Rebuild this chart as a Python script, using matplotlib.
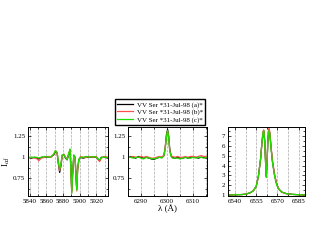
import matplotlib
matplotlib.use("Agg")
import matplotlib.pyplot as plt
from matplotlib.ticker import MultipleLocator, FormatStrFormatter

plt.rcParams['font.family'] = ['Liberation Serif', 'DejaVu Serif']
plt.rcParams['mathtext.fontset'] = 'stix'

labels = ['VV Ser *31-Jul-98 (a)*', 'VV Ser *31-Jul-98 (b)*', 'VV Ser *31-Jul-98 (c)*']
colors = ['black', '#ff5050', '#22dd00']

# panel 1: He I 5876 / Na D
wl1 = [5838, 5842, 5846, 5849, 5851, 5854, 5858, 5862, 5866, 5869, 5871, 5873,
       5874.5, 5876, 5877.5, 5879, 5881, 5883, 5885, 5887, 5888.5, 5889.5, 5890.5,
       5891.5, 5893, 5894.5, 5895.5, 5896.5, 5897.5, 5899, 5901, 5904, 5908, 5912,
       5916, 5920, 5922, 5924, 5926, 5930, 5934]
a1 = [1.00, 0.99, 1.00, 0.99, 0.98, 1.00, 1.00, 1.00, 1.01, 1.03, 1.07, 1.05,
      0.92, 0.82, 0.90, 1.02, 1.03, 0.99, 0.97, 1.04, 1.09, 0.85, 0.60,
      0.80, 1.02, 1.00, 0.80, 0.62, 0.85, 0.97, 1.00, 0.99, 1.00, 1.00,
      1.00, 1.00, 0.98, 0.96, 1.00, 1.00, 0.99]
b1 = [0.99, 1.00, 0.99, 0.98, 0.96, 0.99, 1.00, 1.01, 1.00, 1.04, 1.08, 1.04,
      0.93, 0.84, 0.91, 1.01, 1.04, 1.00, 0.98, 1.05, 1.08, 0.82, 0.58,
      0.78, 1.01, 0.99, 0.78, 0.60, 0.84, 0.96, 1.01, 1.00, 1.00, 1.01,
      1.00, 1.01, 0.97, 0.95, 0.99, 1.01, 1.00]
c1 = [1.00, 1.00, 1.00, 1.00, 0.99, 1.00, 1.01, 1.00, 1.01, 1.04, 1.08, 1.06,
      0.94, 0.86, 0.92, 1.03, 1.03, 1.00, 0.97, 1.05, 1.10, 0.84, 0.57,
      0.79, 1.03, 1.00, 0.79, 0.61, 0.86, 0.98, 1.00, 1.00, 1.01, 1.00,
      1.01, 1.00, 0.98, 0.97, 1.00, 1.00, 1.00]

# panel 2: [O I] 6300
wl2 = [6285, 6286, 6287, 6288, 6289, 6290, 6291, 6292, 6293, 6294, 6295, 6296,
       6297, 6298, 6298.8, 6299.3, 6299.8, 6300.2, 6300.6, 6301, 6301.5, 6302,
       6303, 6304, 6305, 6306, 6307, 6308, 6309, 6310, 6311, 6312, 6313, 6314, 6315]
a2 = [1.00, 1.01, 1.00, 0.99, 1.01, 1.00, 0.99, 1.00, 0.99, 0.98, 0.975, 0.99,
      1.00, 1.00, 1.02, 1.12, 1.28, 1.33, 1.25, 1.10, 1.02, 1.00,
      0.99, 1.00, 0.99, 0.99, 1.00, 0.99, 1.00, 1.00, 1.00, 0.99, 1.00, 1.00, 0.99]
b2 = [1.01, 1.00, 1.01, 1.00, 1.00, 1.01, 1.00, 1.01, 1.00, 0.99, 0.99, 1.00,
      1.01, 1.00, 1.03, 1.13, 1.27, 1.31, 1.24, 1.09, 1.02, 1.01,
      1.00, 1.01, 1.00, 1.00, 1.01, 1.00, 1.01, 1.01, 1.00, 1.01, 1.02, 1.01, 1.01]
c2 = [1.00, 1.00, 0.99, 1.00, 1.00, 0.99, 0.98, 1.00, 0.99, 0.985, 0.98, 0.99,
      1.00, 0.99, 1.02, 1.11, 1.26, 1.32, 1.23, 1.08, 1.01, 0.99,
      0.99, 0.99, 0.98, 0.99, 1.00, 0.99, 0.99, 1.00, 0.99, 1.00, 1.00, 0.99, 1.00]

# panel 3: H alpha
wl3 = [6535, 6540, 6545, 6548, 6551, 6553, 6555, 6556.5, 6558, 6559, 6559.8,
       6560.3, 6561, 6561.7, 6562.1, 6562.6, 6563.3, 6564, 6564.6, 6565.5,
       6566.5, 6568, 6569.5, 6571, 6573, 6576, 6580, 6585, 6590]
a3 = [1.00, 1.02, 1.05, 1.10, 1.25, 1.45, 1.9, 2.9, 4.6, 6.3, 7.4,
      7.55, 6.5, 4.0, 2.9, 4.2, 6.8, 7.7, 7.3, 5.8,
      4.4, 3.0, 2.1, 1.6, 1.3, 1.15, 1.07, 1.03, 1.00]
b3 = [1.00, 1.02, 1.05, 1.10, 1.25, 1.45, 1.9, 2.9, 4.6, 6.3, 7.5,
      7.65, 6.6, 4.1, 3.0, 4.4, 7.0, 7.9, 7.4, 5.9,
      4.5, 3.1, 2.1, 1.6, 1.3, 1.15, 1.07, 1.03, 1.00]
c3 = [1.00, 1.02, 1.05, 1.10, 1.25, 1.45, 1.9, 2.9, 4.6, 6.3, 7.4,
      7.6, 6.4, 3.9, 2.8, 4.1, 6.7, 7.6, 7.2, 5.7,
      4.3, 2.9, 2.0, 1.6, 1.3, 1.15, 1.07, 1.03, 1.00]

W, H = 317, 245
fig = plt.figure(figsize=(W / 100, H / 100), dpi=100)

def box(x0, x1, y0, y1):
    return [x0 / W, 1 - y1 / H, (x1 - x0) / W, (y1 - y0) / H]

ax1 = fig.add_axes(box(28, 108, 127, 196))
ax2 = fig.add_axes(box(128, 207, 127, 196))
ax3 = fig.add_axes(box(228, 305, 127, 196))

panels = [
    (ax1, wl1, [a1, b1, c1], (5838, 5934), (0.54, 1.36), 20, 10, 0.25, 0.125),
    (ax2, wl2, [a2, b2, c2], (6285, 6315.3), (0.54, 1.36), 10, 5, 0.25, 0.125),
    (ax3, wl3, [a3, b3, c3], (6535, 6589.5), (0.9, 7.95), 15, 7.5, 1, 0.5),
]

for ax, wl, series, xl, yl, xmaj, xmin, ymaj, ymin in panels:
    for s, c, lab in zip(series, colors, labels):
        ax.plot(wl, s, color=c, lw=0.9, label=lab)
    ax.set_xlim(*xl)
    ax.set_ylim(*yl)
    ax.xaxis.set_major_locator(MultipleLocator(xmaj))
    ax.xaxis.set_minor_locator(MultipleLocator(xmin))
    ax.yaxis.set_major_locator(MultipleLocator(ymaj))
    ax.yaxis.set_minor_locator(MultipleLocator(ymin))
    ax.yaxis.set_major_formatter(FormatStrFormatter('%g'))
    ax.grid(True, axis='x', which='both', color='#aaaaaa', ls='--', lw=0.5)
    ax.set_axisbelow(True)
    ax.tick_params(which='both', direction='in', top=True, right=True,
                   labelsize=5, length=2.5, width=0.5, pad=2)
    ax.tick_params(which='minor', length=1.5)
    for sp in ax.spines.values():
        sp.set_linewidth(0.7)

ax1.set_ylabel('I$_{cd}$', fontsize=6.5, labelpad=1)
ax2.set_xlabel('λ (Å)', fontsize=6.5, labelpad=1)

ax2.legend(loc='lower right', bbox_to_anchor=(1.0, 1.0), borderaxespad=0.3,
           fontsize=5, frameon=True, fancybox=False, edgecolor='black',
           handlelength=2.2, handletextpad=0.6, labelspacing=0.2,
           borderpad=0.3, framealpha=1)

fig.savefig('out.png', dpi=100)
